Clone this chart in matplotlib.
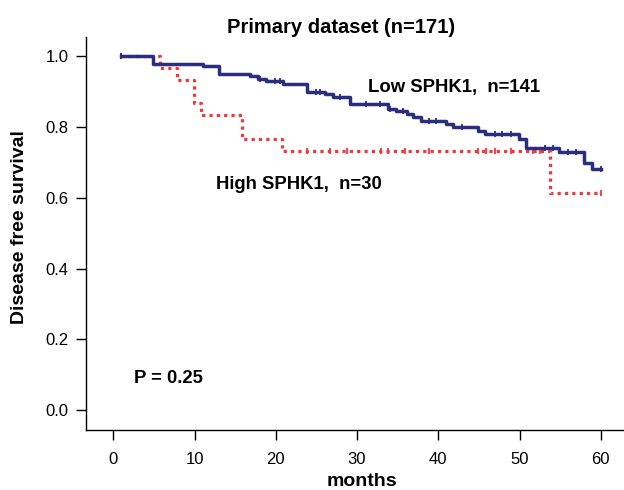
import numpy as np
import matplotlib
matplotlib.use("Agg")
import matplotlib.pyplot as plt

plt.rcParams['font.family'] = ['Liberation Sans', 'DejaVu Sans']

# Kaplan-Meier steps
low_t = [1, 4.9, 11, 13, 16.8, 17.8, 18.8, 20.9, 23.8, 26, 27, 29.1, 33.8, 34.8,
         36.1, 36.9, 37.9, 40.9, 41.8, 44.9, 45.8, 49.9, 50.8, 54.9, 57.9, 58.9, 60]
low_s = [1.0, 0.979, 0.972, 0.949, 0.943, 0.936, 0.929, 0.921, 0.899, 0.892, 0.885,
         0.864, 0.852, 0.846, 0.836, 0.827, 0.817, 0.808, 0.800, 0.789, 0.779, 0.766,
         0.741, 0.728, 0.699, 0.680, 0.680]
low_cens = [1, 18.1, 19.9, 20.5, 24.9, 25.4, 27.9, 31.1, 32.8, 34, 35.6, 38.9, 39.7,
            42.9, 47, 47.9, 49, 53.1, 54.1, 55.9, 57, 60]

high_t = [1, 5.7, 7.9, 9.9, 10.8, 15.9, 20.8, 53.8, 60]
high_s = [1.0, 0.967, 0.933, 0.867, 0.833, 0.767, 0.733, 0.612, 0.612]
high_cens = [1, 23.8, 26.7, 28.8, 33, 33.8, 35.9, 38.8, 44.9, 45.9, 47, 48.9,
             51.6, 52.5, 60]

xticks = [0, 10, 20, 30, 40, 50, 60]
yticks = [0.0, 0.2, 0.4, 0.6, 0.8, 1.0]

navy = '#2b2e7c'
red = '#f0383c'


def step_at(t, s, x):
    idx = np.searchsorted(t, x, side='right') - 1
    return np.array(s)[np.clip(idx, 0, len(s) - 1)]


fig = plt.figure(figsize=(6.24, 4.9), dpi=100)
ax = fig.add_axes([0.1386, 0.1224, 0.8594, 0.8021])

ax.plot(high_t, high_s, drawstyle='steps-post', color=red, lw=2.3,
        linestyle=(0, (1, 1.3)), dash_capstyle='butt')
ax.plot(high_cens, step_at(high_t, high_s, high_cens), ls='none', marker='|',
        ms=5, mew=1.3, color=red)

ax.plot(low_t, low_s, drawstyle='steps-post', color=navy, lw=2.5)
ax.plot(low_cens, step_at(low_t, low_s, low_cens), ls='none', marker='|',
        ms=5, mew=1.3, color=navy)

ax.set_xlim(-3.3, 62.7)
ax.set_ylim(-0.056, 1.054)
ax.set_xticks(xticks)
ax.set_xticklabels([str(v) for v in xticks])
ax.set_yticks(yticks)
ax.set_yticklabels(['%.1f' % v for v in yticks])
ax.tick_params(direction='out', length=7, width=1, labelsize=12, pad=6)
ax.tick_params(axis='x', pad=9)
for side in ['top', 'right']:
    ax.spines[side].set_visible(False)
for side in ['left', 'bottom']:
    ax.spines[side].set_linewidth(1)

ax.set_xlabel('months', fontsize=14, fontweight='bold', va='center')
ax.xaxis.set_label_coords(0.5135, -0.1315)
ax.set_ylabel('Disease free survival', fontsize=14, fontweight='bold', va='center')
ax.yaxis.set_label_coords(-0.124, 0.5165)

ax.text(31.3, 0.912, 'Low SPHK1,  n=141', fontsize=13.3, fontweight='bold', va='center')
ax.text(12.6, 0.638, 'High SPHK1,  n=30', fontsize=13.3, fontweight='bold', va='center')
ax.text(2.6, 0.09, 'P = 0.25', fontsize=13.3, fontweight='bold', va='center')

fig.text(0.5465, 0.943, 'Primary dataset (n=171)', fontsize=14.5, fontweight='bold',
         ha='center', va='center')

fig.savefig('out.png', dpi=100)
